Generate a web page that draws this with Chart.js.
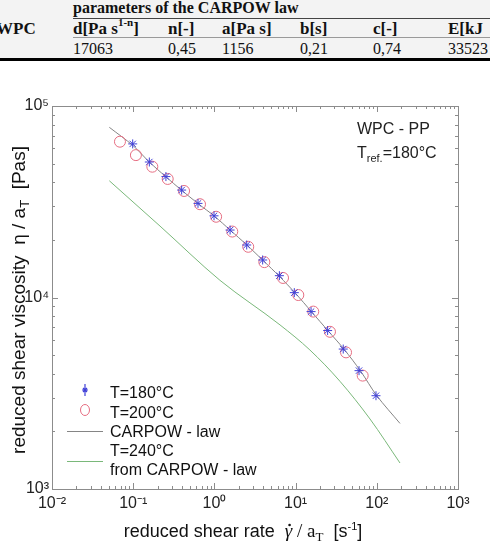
<!DOCTYPE html>
<html>
<head>
<meta charset="utf-8">
<script src="https://cdn.jsdelivr.net/npm/chart.js@4.4.1/dist/chart.umd.min.js"></script>
<style>
  html, body { margin: 0; padding: 0; background: #fff; }
  #wrap { position: relative; width: 490px; height: 550px; overflow: hidden; }
  #params { position: absolute; left: 0; top: 0; width: 490px; height: 58px; background: #f3f3f3;
    border-bottom: 3px solid #000; font-family: "Liberation Serif", serif; font-size: 16px; color: #111; }
  #params div { position: absolute; white-space: nowrap; line-height: 18px; }
  #params .b { font-weight: bold; }
  #params .h { font-size: 17px; }
  #params sup { font-size: 11px; line-height: 0; position: relative; top: -1px; }
  .rule { position: absolute; left: 73px; right: 0; height: 0; }
  #chart { position: absolute; left: 0; top: 0; }
</style>
</head>
<body>
<div id="wrap">
  <div id="params"></div>
  <canvas id="chart" width="490" height="550"></canvas>
</div>
<script>
// tabla de parámetros de la ley CARPOW
const paramTitle = "parameters of the CARPOW law";
const paramHeaders = ["d[Pa s<sup>1-n</sup>]", "n[-]", "a[Pa s]", "b[s]", "c[-]", "E[kJ"];
const paramValues = ["17063", "0,45", "1156", "0,21", "0,74", "33523"];

// datos medidos (tasa reducida [1/s], viscosidad reducida [Pas])
const rate180 = [0.0986, 0.158, 0.253, 0.395, 0.628, 0.989, 1.56, 2.50, 3.93, 6.31, 9.64, 15.5, 24.8, 38.6, 60.4, 97.7];
const visc180 = [63400, 51000, 42800, 36400, 31000, 26700, 22500, 18800, 15700, 13000, 10600, 8440, 6720, 5380, 4150, 3070];

const rate200 = [0.0687, 0.108, 0.172, 0.266, 0.423, 0.665, 1.05, 1.66, 2.61, 4.12, 7.0, 10.8, 16.5, 26.5, 41.8, 67];
const visc200 = [65100, 55400, 48200, 41600, 36000, 30700, 26400, 22100, 18400, 15300, 12650, 10300, 8440, 6620, 5170, 3910];

// curvas de la ley CARPOW
const carpowRate = [0.0508, 0.1, 0.158, 0.251, 0.398, 0.631, 1, 1.58, 2.51, 3.98, 6.31, 10, 15.8, 25.1, 39.8, 63.1, 100, 193];
const carpowVisc = [77400, 62000, 51000, 42800, 36200, 30900, 26600, 22400, 18800, 15600, 12900, 10500, 8400, 6700, 5350, 4130, 3070, 2200];

const rate240 = [0.0508, 0.214, 1.17, 6.43, 15.0, 35.2, 82.5, 193];
const visc240 = [40700, 23600, 12300, 7190, 5320, 3650, 2320, 1367];

// ejes
const xDecades = [0.01, 0.1, 1, 10, 100, 1000];
const xTickLabels = ["10⁻²", "10⁻¹", "10⁰", "10¹", "10²", "10³"];
const yDecades = [1000, 10000, 100000];
const yTickLabels = ["10³", "10⁴", "10⁵"];

// Construir la tabla
const params = document.getElementById("params");
const colX = [73, 168, 222, 300, 373, 448];
let html = `<div class="b" style="left:73px;top:-1px">${paramTitle}</div>`;
html += `<div class="b h" style="left:-4px;top:20px">WPC</div>`;
html += `<div class="rule" style="top:18px;border-top:1px solid #444"></div>`;
html += `<div class="rule" style="top:37px;border-top:1px solid #999"></div>`;
paramHeaders.forEach((h, i) => { html += `<div class="b h" style="left:${colX[i]}px;top:20px">${h}</div>`; });
paramValues.forEach((v, i) => { html += `<div style="left:${colX[i]}px;top:40px">${v}</div>`; });
params.innerHTML = html;

const SANS = '"Liberation Sans", Arial, sans-serif';
const SERIF = '"Liberation Serif", serif';

// Dibuja texto con tramos (subíndices, punto encima, etc.)
function drawRich(ctx, parts, x, y, align) {
  let total = 0;
  parts.forEach((p) => { ctx.font = p.font; total += ctx.measureText(p.t).width; });
  let cx = align === "center" ? x - total / 2 : x;
  ctx.textBaseline = "alphabetic";
  ctx.textAlign = "left";
  parts.forEach((p) => {
    ctx.font = p.font;
    const w = ctx.measureText(p.t).width;
    ctx.fillText(p.t, cx, y + (p.dy || 0));
    if (p.dot) {
      ctx.beginPath();
      ctx.arc(cx + w / 2 + 1, y - 12, 1.3, 0, Math.PI * 2);
      ctx.fill();
    }
    cx += w;
  });
}

const chartDecor = {
  id: "chartDecor",
  afterDatasetsDraw(chart) {
    const { ctx, chartArea: a, scales } = chart;
    ctx.save();
    // marco
    ctx.strokeStyle = "#8c8c8c";
    ctx.lineWidth = 1;
    ctx.strokeRect(a.left + 0.5, a.top + 0.5, a.right - a.left, a.bottom - a.top);
    // marcas hacia dentro
    ctx.beginPath();
    xDecades.slice(0, -1).forEach((d) => {
      for (let m = 1; m <= 9; m++) {
        const px = Math.round(scales.x.getPixelForValue(d * m)) + 0.5;
        const len = m === 1 ? 6 : 3;
        ctx.moveTo(px, a.bottom); ctx.lineTo(px, a.bottom - len);
        ctx.moveTo(px, a.top); ctx.lineTo(px, a.top + len);
      }
    });
    yDecades.slice(0, -1).forEach((d) => {
      for (let m = 1; m <= 9; m++) {
        const py = Math.round(scales.y.getPixelForValue(d * m)) + 0.5;
        const len = m === 1 ? 6 : 3;
        ctx.moveTo(a.left, py); ctx.lineTo(a.left + len, py);
        ctx.moveTo(a.right, py); ctx.lineTo(a.right - len, py);
      }
    });
    ctx.stroke();

    // textos
    ctx.fillStyle = "#222";
    drawRich(ctx, [{ t: "WPC - PP", font: "16px " + SANS }], 357, 134);
    drawRich(ctx, [
      { t: "T", font: "16px " + SANS },
      { t: "ref.", font: "11px " + SANS, dy: 4 },
      { t: "=180°C", font: "16px " + SANS }
    ], 357, 158);

    // leyenda
    const ds = chart.data.datasets;
    const lx = 85;
    ctx.strokeStyle = ds[0].borderColor;
    ctx.lineWidth = 1.2;
    ctx.beginPath();
    ctx.moveTo(lx, 384); ctx.lineTo(lx, 396); ctx.moveTo(lx - 3, 390); ctx.lineTo(lx + 3, 390);
    ctx.moveTo(lx - 2, 388); ctx.lineTo(lx + 2, 392); ctx.moveTo(lx - 2, 392); ctx.lineTo(lx + 2, 388);
    ctx.stroke();
    ctx.strokeStyle = ds[1].borderColor;
    ctx.lineWidth = 1;
    ctx.beginPath(); ctx.ellipse(lx, 410, 4.5, 5.5, 0, 0, Math.PI * 2); ctx.stroke();
    ctx.strokeStyle = ds[2].borderColor;
    ctx.beginPath(); ctx.moveTo(67, 431.5); ctx.lineTo(103, 431.5); ctx.stroke();
    ctx.strokeStyle = ds[3].borderColor;
    ctx.beginPath(); ctx.moveTo(67, 461.5); ctx.lineTo(103, 461.5); ctx.stroke();
    ctx.fillStyle = "#111";
    const lf = "16px " + SANS;
    drawRich(ctx, [{ t: ds[0].label, font: lf }], 110, 398);
    drawRich(ctx, [{ t: ds[1].label, font: lf }], 110, 418);
    drawRich(ctx, [{ t: ds[2].label, font: lf }], 110, 437);
    drawRich(ctx, [{ t: "T=240°C", font: lf }], 110, 456);
    drawRich(ctx, [{ t: "from CARPOW - law", font: lf }], 110, 475);

    // títulos de ejes
    const tf = "18px " + SANS;
    drawRich(ctx, [
      { t: "reduced shear rate  ", font: tf },
      { t: "γ", font: "italic 19px " + SERIF, dot: true },
      { t: " / a", font: "19px " + SERIF },
      { t: "T", font: "13px " + SERIF, dy: 4 },
      { t: "  [s", font: tf },
      { t: "-1", font: "11px " + SANS, dy: -7 },
      { t: "]", font: tf }
    ], 243, 537, "center");
    ctx.translate(25, 300);
    ctx.rotate(-Math.PI / 2);
    drawRich(ctx, [
      { t: "reduced shear viscosity  η / a", font: "19px " + SANS },
      { t: "T", font: "13px " + SANS, dy: 4 },
      { t: "  [Pas]", font: "19px " + SANS }
    ], 0, 0, "center");
    ctx.restore();
  }
};

const toPoints = (xs, ys) => xs.map((x, i) => ({ x: x, y: ys[i] }));

new Chart(document.getElementById("chart").getContext("2d"), {
  type: "line",
  data: {
    datasets: [
      {
        label: "T=180°C",
        data: toPoints(rate180, visc180),
        showLine: false,
        pointStyle: "star",
        pointRadius: 4.5,
        pointBorderWidth: 1,
        borderColor: "#4040d8",
        backgroundColor: "#4040d8",
        order: 0,
      },
      {
        label: "T=200°C",
        data: toPoints(rate200, visc200),
        showLine: false,
        pointStyle: "circle",
        pointRadius: 5.5,
        pointBorderWidth: 1,
        borderColor: "rgb(230, 110, 130)",
        backgroundColor: "rgba(0,0,0,0)",
        order: 1,
      },
      {
        label: "CARPOW - law",
        data: toPoints(carpowRate, carpowVisc),
        borderColor: "#858585",
        borderWidth: 1,
        pointRadius: 0,
        tension: 0.3,
        order: 2,
      },
      {
        label: "T=240°C from CARPOW - law",
        data: toPoints(rate240, visc240),
        borderColor: "#7ab87a",
        borderWidth: 1,
        pointRadius: 0,
        cubicInterpolationMode: "monotone",
        order: 3,
      },
    ],
  },
  options: {
    responsive: false,
    animation: false,
    events: [],
    layout: { padding: { left: 0, right: 32, top: 106, bottom: 0 } },
    plugins: { legend: { display: false }, tooltip: { enabled: false } },
    scales: {
      x: {
        type: "logarithmic",
        min: 0.01,
        max: 1000,
        afterBuildTicks: (s) => { s.ticks = xDecades.map((v) => ({ value: v })); },
        afterFit: (s) => { s.height = 61; },
        grid: { display: false, drawTicks: false },
        border: { display: false },
        ticks: {
          autoSkip: false,
          maxRotation: 0,
          padding: 5,
          color: "#222",
          font: { family: SANS, size: 16 },
          callback: (v, i) => xTickLabels[i],
        },
      },
      y: {
        type: "logarithmic",
        min: 1000,
        max: 100000,
        afterBuildTicks: (s) => { s.ticks = yDecades.map((v) => ({ value: v })); },
        afterFit: (s) => { s.width = 52; },
        grid: { display: false, drawTicks: false },
        border: { display: false },
        ticks: {
          autoSkip: false,
          padding: 3,
          color: "#222",
          font: { family: SANS, size: 16 },
          callback: (v, i) => yTickLabels[i],
        },
      },
    },
  },
  plugins: [chartDecor],
});
</script>
</body>
</html>
